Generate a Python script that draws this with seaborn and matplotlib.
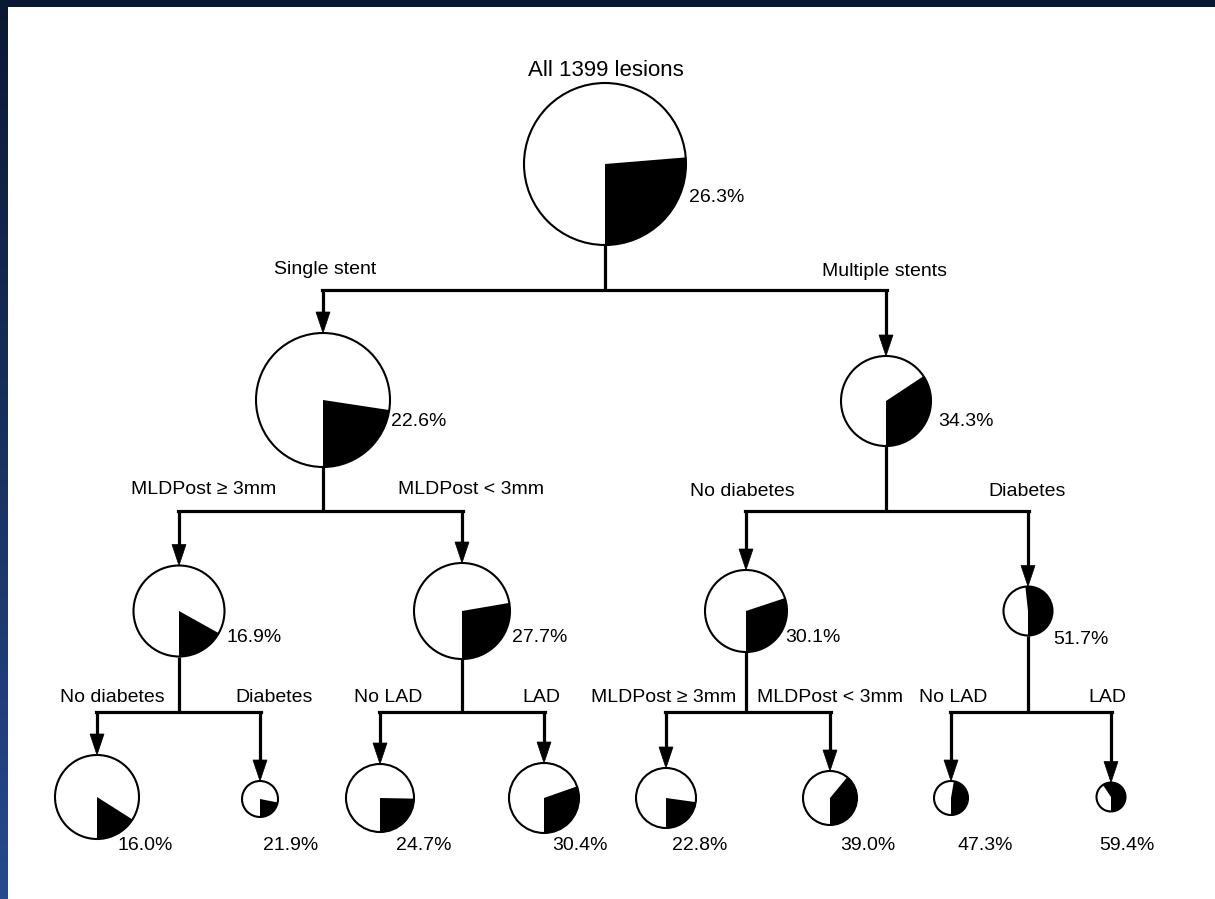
import numpy as np
import matplotlib
matplotlib.use("Agg")
import matplotlib.pyplot as plt
from matplotlib.patches import Wedge, Circle, Polygon, Rectangle
import seaborn as sns

sns.set_theme(style="white")
plt.rcParams['font.family'] = ['Liberation Sans', 'DejaVu Sans']

# ---------------- data ----------------
root_title = "All 1399 lesions"
node_rates = [26.3, 22.6, 34.3, 16.9, 27.7, 30.1, 51.7,
              16.0, 21.9, 24.7, 30.4, 22.8, 39.0, 47.3, 59.4]
node_parent = [None, 0, 0, 1, 1, 2, 2, 3, 3, 4, 4, 5, 5, 6, 6]
split_labels = [None, "Single stent", "Multiple stents",
                "MLDPost \u2265 3mm", "MLDPost < 3mm", "No diabetes", "Diabetes",
                "No diabetes", "Diabetes", "No LAD", "LAD",
                "MLDPost \u2265 3mm", "MLDPost < 3mm", "No LAD", "LAD"]

# ---------------- layout (pixels, y from top) ----------------
node_xy = [(605, 164), (323, 400), (886, 401), (179, 611), (462, 611),
           (746, 611), (1028, 611), (97, 797), (260, 799), (380, 798),
           (544, 798), (666, 798), (830, 798), (951, 798), (1111, 797)]
node_r = [81, 67, 45, 45.5, 48, 41, 24.5, 42, 18, 34, 35, 30, 27, 17, 14.5]
branch_y = {0: 290, 1: 511, 2: 511, 3: 712, 4: 712, 5: 712, 6: 712}
split_label_xy = [None, (325, 269), (885, 271), (204, 490), (471, 490),
                  (742, 491), (1027, 491), (112, 697), (274, 697),
                  (388, 697), (541, 697), (664, 698), (830, 698),
                  (953, 698), (1107, 697)]
# percent label: (x, y, ha)
pct_pos = [(689, 197, 'left'), (391, 422, 'left'), (938, 421, 'left'),
           (226, 637, 'left'), (512, 637, 'left'), (785, 637, 'left'),
           (1053, 640, 'left'),
           (145, 845, 'center'), (291, 845, 'center'), (424, 845, 'center'),
           (580, 845, 'center'), (700, 845, 'center'), (868, 845, 'center'),
           (985, 845, 'center'), (1127, 845, 'center')]

W, H = 1215, 899
FS = 14
LW = 2.3
fig = plt.figure(figsize=(W / 100, H / 100), dpi=100)
fig.patch.set_facecolor("white")
ax = fig.add_axes([0, 0, 1, 1])
ax.set_xlim(0, W)
ax.set_ylim(H, 0)
ax.axis("off")

# edges
for i, p in enumerate(node_parent):
    if p is None:
        continue
    cx, cy = node_xy[i]
    by = branch_y[p]
    top = cy - node_r[i]
    ah, aw = 21, 7
    ax.plot([cx, cx], [by, top - ah + 1], color="black", lw=LW,
            solid_capstyle="butt", zorder=2)
    ax.add_patch(Polygon([(cx, top), (cx - aw, top - ah), (cx + aw, top - ah)],
                         closed=True, facecolor="black", edgecolor="black",
                         lw=0.5, zorder=3))
for p, by in branch_y.items():
    px, py = node_xy[p]
    kids = [i for i, q in enumerate(node_parent) if q == p]
    xs = [node_xy[k][0] for k in kids]
    ax.plot([px, px], [py + node_r[p], by], color="black", lw=LW,
            solid_capstyle="butt", zorder=2)
    ax.plot([min(xs) - 1, max(xs) + 1], [by, by], color="black", lw=LW,
            solid_capstyle="projecting", zorder=2)

# pies
for i, rate in enumerate(node_rates):
    cx, cy = node_xy[i]
    r = node_r[i]
    frac = rate / 100.0
    ax.add_patch(Circle((cx, cy), r, facecolor="white", edgecolor="none", zorder=4))
    # y axis inverted: screen-ccw from 6 o'clock corresponds to these data angles
    ax.add_patch(Wedge((cx, cy), r, 90 - 360 * frac, 90, facecolor="black",
                       edgecolor="none", zorder=5))
    ax.add_patch(Circle((cx, cy), r, facecolor="none", edgecolor="black",
                        lw=1.5, zorder=6))
    x, y, ha = pct_pos[i]
    ax.text(x, y, f"{rate:.1f}%", ha=ha, va="center", fontsize=FS,
            color="black", zorder=7)

# split labels
for i, lab in enumerate(split_labels):
    if lab is None:
        continue
    x, y = split_label_xy[i]
    ax.text(x, y, lab, ha="center", va="center", fontsize=FS, color="black")

ax.text(606, 70, root_title, ha="center", va="center", fontsize=16, color="black")

# slide frame: dark top strip and blue gradient on the left
grad_ax = fig.add_axes([0, 0, 8 / W, 1])
grad = np.linspace(0, 1, 256).reshape(-1, 1)
top_c = np.array([11, 24, 51]) / 255.0
bot_c = np.array([38, 74, 140]) / 255.0
img = (top_c[None, None, :] * (1 - grad[:, :, None]) + bot_c[None, None, :] * grad[:, :, None])
grad_ax.imshow(img, aspect="auto", extent=[0, 1, 1, 0])
grad_ax.axis("off")
fig.patches.append(Rectangle((0, 1 - 7 / H), 1, 7 / H, transform=fig.transFigure,
                             facecolor=top_c, edgecolor="none", zorder=10))

fig.savefig("out.png", dpi=100, facecolor="white")
